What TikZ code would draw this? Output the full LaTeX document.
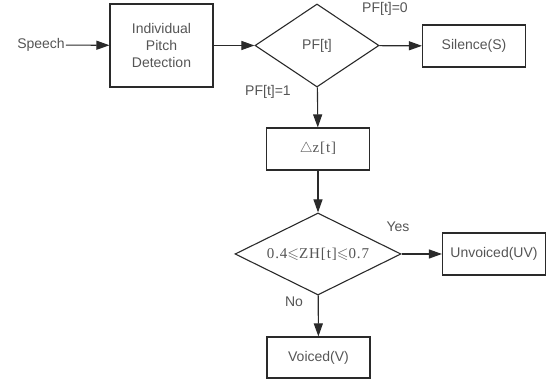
\documentclass[tikz,border=0pt]{standalone}
\usepackage{amssymb}
\usepackage{fontspec}
\setmainfont{Liberation Sans}
\newfontfamily\serifface[LetterSpace=6]{Liberation Serif}
\usetikzlibrary{shapes.geometric,arrows.meta}
\definecolor{linegray}{HTML}{2A2A2A}
\definecolor{textgray}{HTML}{555555}

\begin{document}
\begin{tikzpicture}[x=1pt,y=1pt,
    box/.style={draw=linegray, line width=1.1pt, rectangle, minimum width=103pt, minimum height=42pt,
      text=textgray, font=\fontsize{14}{17}\selectfont, align=center, inner sep=0pt},
    decision/.style={draw=linegray, line width=1.1pt, diamond, inner sep=0pt,
      text=textgray, font=\fontsize{14}{17}\selectfont},
    lbl/.style={text=textgray, font=\fontsize{14}{17}\selectfont, inner sep=1pt},
    flow/.style={draw=linegray, line width=1.1pt, -{Triangle[length=13pt,width=9pt]}}]
  \useasboundingbox (0,0) rectangle (552,382);
  \node[lbl] (speech) at (41,337) {Speech};
  \node[box, minimum height=83pt] (ipd) at (161.5,336.5) {Individual\\Pitch\\Detection};
  \node[decision, minimum width=124pt, minimum height=83pt] (pf) at (317,336.5) {\makebox[0pt]{PF[t]}};
  \node[box] (sil) at (474,336) {Silence(S)};
  \node[box] (dz) at (318,233) {\fontsize{15}{17}\serifface$\triangle$z[t]};
  \node[decision, minimum width=166pt, minimum height=82pt] (zh) at (318,128)
    {\makebox[0pt]{\fontsize{15}{17}\serifface 0.4$\leqslant$ZH[t]$\leqslant$0.7}};
  \node[box] (uv) at (494,128) {Unvoiced(UV)};
  \node[box, minimum height=41pt] (v) at (318.5,24.5) {Voiced(V)};
  \node[lbl] (pf0) at (385,373) {PF[t]=0};
  \node[lbl] (pf1) at (268,290) {PF[t]=1};
  \node[lbl] (yes) at (398,155) {Yes};
  \node[lbl] (no) at (294,80) {No};
  \draw[flow] (speech) -- (ipd);
  \draw[flow] (ipd) -- (pf);
  \draw[flow] (pf) -- (sil);
  \draw[flow] (pf) -- (dz);
  \draw[flow] (dz) -- (zh);
  \draw[flow] (zh) -- (uv);
  \draw[flow] (zh) -- (v);
\end{tikzpicture}
\end{document}
